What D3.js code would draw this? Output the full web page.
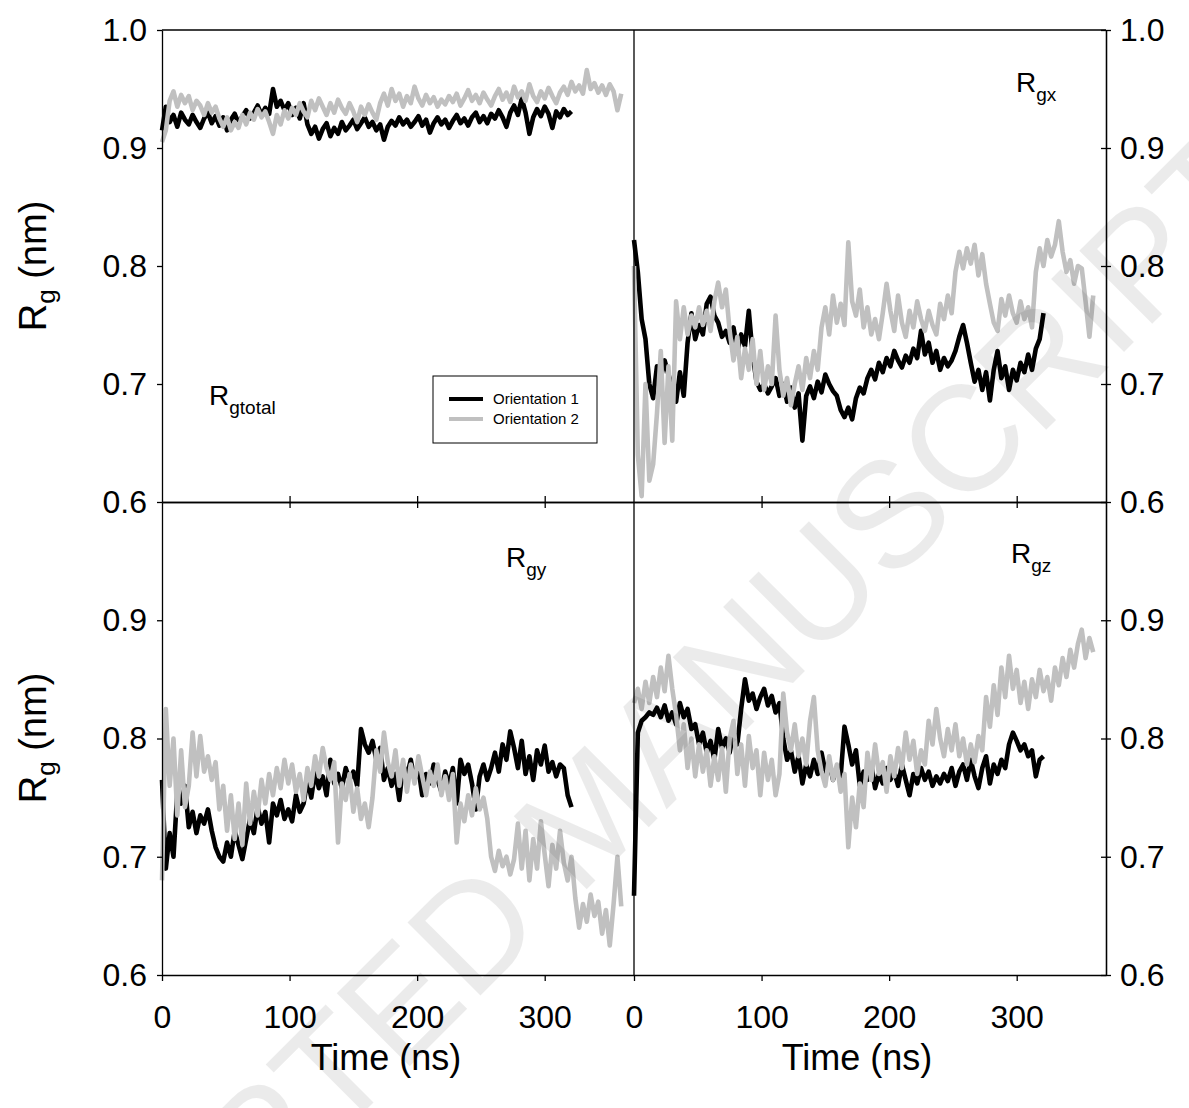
<!DOCTYPE html>
<html><head><meta charset="utf-8">
<script src="https://cdn.jsdelivr.net/npm/d3@7"></script>
<style>body{margin:0;background:#fff} svg{display:block} text{font-family:"Liberation Sans",Arial,sans-serif}</style>
</head><body><svg id="c" width="1189" height="1108"></svg>
<script>
const timeStep = 3; // ns between samples
const xTicks = [0, 100, 200, 300];
const yTicksTop = [0.6, 0.7, 0.8, 0.9, 1.0];
const yTicksBottom = [0.6, 0.7, 0.8, 0.9];
const seriesNames = ["Orientation 1", "Orientation 2"];

const rgTotal1 = [0.915,0.935,0.922,0.928,0.918,0.930,0.924,0.920,0.928,0.922,
0.917,0.925,0.930,0.921,0.927,0.919,0.926,0.915,0.924,0.929,
0.921,0.927,0.932,0.925,0.930,0.936,0.928,0.934,0.929,0.950,
0.935,0.940,0.932,0.938,0.928,0.934,0.925,0.938,0.920,0.912,
0.918,0.908,0.916,0.921,0.910,0.917,0.912,0.922,0.915,0.919,
0.924,0.916,0.921,0.926,0.918,0.922,0.915,0.920,0.907,0.918,
0.923,0.919,0.926,0.920,0.924,0.918,0.922,0.927,0.919,0.924,
0.913,0.921,0.926,0.920,0.924,0.917,0.923,0.928,0.921,0.925,
0.919,0.926,0.930,0.922,0.927,0.921,0.929,0.925,0.932,0.926,
0.918,0.930,0.936,0.928,0.942,0.930,0.912,0.926,0.933,0.927,
0.935,0.929,0.917,0.931,0.926,0.933,0.928,0.931];
const rgTotal2 = [0.905,0.915,0.940,0.948,0.935,0.945,0.938,0.944,0.932,0.940,
0.936,0.928,0.938,0.930,0.935,0.925,0.918,0.926,0.915,0.922,
0.917,0.928,0.920,0.930,0.924,0.933,0.926,0.931,0.922,0.912,
0.928,0.920,0.932,0.925,0.934,0.928,0.938,0.931,0.926,0.940,
0.932,0.942,0.935,0.928,0.938,0.930,0.941,0.934,0.929,0.938,
0.931,0.922,0.935,0.928,0.937,0.930,0.924,0.938,0.946,0.936,
0.950,0.940,0.946,0.935,0.944,0.938,0.952,0.942,0.936,0.945,
0.938,0.943,0.935,0.941,0.937,0.944,0.939,0.946,0.936,0.942,
0.949,0.940,0.945,0.938,0.947,0.941,0.936,0.944,0.950,0.941,
0.947,0.939,0.952,0.943,0.948,0.940,0.954,0.944,0.939,0.948,
0.942,0.951,0.944,0.938,0.947,0.952,0.945,0.956,0.948,0.953,
0.946,0.966,0.950,0.955,0.947,0.953,0.945,0.954,0.948,0.932,
0.946];

const rgx1 = [0.822,0.795,0.755,0.738,0.700,0.688,0.715,0.705,0.720,0.708,
0.698,0.685,0.710,0.690,0.735,0.760,0.738,0.750,0.742,0.768,
0.774,0.758,0.752,0.740,0.745,0.735,0.748,0.728,0.742,0.732,
0.762,0.725,0.702,0.695,0.700,0.692,0.698,0.705,0.690,0.700,
0.685,0.697,0.680,0.692,0.652,0.690,0.698,0.688,0.702,0.693,
0.708,0.700,0.694,0.690,0.678,0.672,0.680,0.670,0.688,0.697,
0.692,0.705,0.712,0.704,0.718,0.710,0.722,0.715,0.728,0.720,
0.714,0.724,0.718,0.730,0.722,0.745,0.725,0.735,0.718,0.728,
0.712,0.722,0.715,0.720,0.728,0.740,0.750,0.735,0.718,0.702,
0.712,0.695,0.710,0.686,0.712,0.728,0.705,0.715,0.695,0.712,
0.703,0.718,0.710,0.725,0.712,0.730,0.738,0.760];
const rgx2 = [0.800,0.640,0.605,0.700,0.618,0.632,0.675,0.728,0.650,0.715,
0.652,0.770,0.738,0.765,0.742,0.758,0.748,0.765,0.750,0.762,
0.745,0.770,0.786,0.765,0.780,0.745,0.720,0.740,0.705,0.730,
0.712,0.738,0.700,0.728,0.695,0.715,0.700,0.758,0.712,0.690,
0.705,0.682,0.700,0.715,0.695,0.722,0.705,0.728,0.712,0.748,
0.765,0.742,0.775,0.752,0.768,0.750,0.820,0.770,0.758,0.780,
0.748,0.765,0.742,0.755,0.738,0.760,0.785,0.762,0.745,0.775,
0.752,0.740,0.762,0.748,0.770,0.755,0.745,0.762,0.750,0.742,
0.768,0.755,0.775,0.760,0.795,0.812,0.798,0.815,0.802,0.818,
0.792,0.810,0.785,0.768,0.752,0.745,0.772,0.758,0.775,0.760,
0.752,0.770,0.755,0.765,0.748,0.795,0.815,0.800,0.822,0.808,
0.818,0.838,0.812,0.795,0.805,0.785,0.800,0.798,0.770,0.740,
0.775];

const rgy1 = [0.765,0.690,0.720,0.700,0.755,0.745,0.760,0.725,0.738,0.720,
0.735,0.728,0.740,0.722,0.708,0.700,0.696,0.712,0.700,0.722,
0.710,0.698,0.715,0.732,0.720,0.742,0.728,0.738,0.712,0.745,
0.735,0.748,0.732,0.740,0.730,0.752,0.738,0.745,0.765,0.750,
0.772,0.758,0.768,0.752,0.782,0.762,0.770,0.758,0.775,0.765,
0.772,0.760,0.808,0.795,0.788,0.798,0.782,0.792,0.765,0.775,
0.760,0.770,0.748,0.778,0.768,0.782,0.765,0.775,0.752,0.770,
0.762,0.778,0.765,0.755,0.772,0.760,0.775,0.745,0.782,0.770,
0.778,0.762,0.740,0.768,0.778,0.765,0.775,0.788,0.772,0.795,
0.782,0.806,0.792,0.775,0.798,0.770,0.785,0.765,0.790,0.778,
0.794,0.772,0.780,0.768,0.778,0.775,0.752,0.742];
const rgy2 = [0.680,0.825,0.760,0.800,0.735,0.790,0.742,0.760,0.805,0.768,
0.802,0.772,0.785,0.765,0.780,0.740,0.760,0.722,0.752,0.715,
0.745,0.710,0.762,0.728,0.755,0.735,0.765,0.745,0.770,0.752,
0.775,0.758,0.782,0.762,0.778,0.755,0.770,0.748,0.775,0.760,
0.785,0.768,0.792,0.775,0.765,0.780,0.712,0.762,0.748,0.770,
0.738,0.758,0.732,0.745,0.725,0.750,0.790,0.772,0.805,0.780,
0.768,0.790,0.760,0.782,0.755,0.778,0.762,0.785,0.768,0.752,
0.772,0.760,0.778,0.752,0.768,0.748,0.770,0.712,0.745,0.730,
0.752,0.735,0.758,0.740,0.750,0.732,0.700,0.688,0.705,0.692,
0.700,0.685,0.698,0.728,0.690,0.722,0.680,0.715,0.690,0.730,
0.702,0.675,0.710,0.690,0.722,0.695,0.680,0.700,0.665,0.640,
0.660,0.645,0.668,0.650,0.662,0.635,0.655,0.625,0.660,0.700,
0.658];

const rgz1 = [0.667,0.805,0.815,0.818,0.822,0.820,0.826,0.818,0.828,0.815,
0.822,0.812,0.830,0.818,0.825,0.808,0.812,0.795,0.805,0.788,
0.798,0.782,0.808,0.792,0.800,0.788,0.805,0.795,0.825,0.850,
0.832,0.838,0.825,0.835,0.842,0.828,0.836,0.822,0.830,0.800,
0.782,0.790,0.772,0.785,0.762,0.778,0.768,0.782,0.770,0.788,
0.772,0.780,0.765,0.775,0.768,0.810,0.795,0.778,0.790,0.760,
0.772,0.765,0.778,0.758,0.770,0.762,0.775,0.765,0.772,0.760,
0.778,0.765,0.752,0.770,0.762,0.775,0.765,0.772,0.760,0.768,
0.762,0.770,0.764,0.775,0.760,0.772,0.778,0.765,0.782,0.768,
0.758,0.775,0.785,0.762,0.778,0.770,0.782,0.775,0.795,0.805,
0.798,0.790,0.795,0.785,0.790,0.768,0.782,0.785];
const rgz2 = [0.830,0.842,0.825,0.848,0.830,0.852,0.835,0.860,0.840,0.870,
0.842,0.820,0.790,0.812,0.775,0.800,0.768,0.795,0.772,0.790,
0.760,0.785,0.765,0.792,0.755,0.800,0.815,0.770,0.795,0.760,
0.802,0.775,0.790,0.752,0.788,0.765,0.782,0.752,0.770,0.838,
0.805,0.790,0.812,0.785,0.800,0.778,0.815,0.835,0.790,0.772,
0.760,0.785,0.765,0.778,0.755,0.770,0.708,0.750,0.725,0.762,
0.742,0.788,0.765,0.795,0.770,0.780,0.755,0.785,0.768,0.792,
0.775,0.805,0.782,0.798,0.770,0.790,0.778,0.815,0.795,0.825,
0.800,0.785,0.808,0.790,0.812,0.785,0.800,0.778,0.795,0.780,
0.802,0.790,0.835,0.810,0.845,0.820,0.860,0.835,0.870,0.842,
0.858,0.830,0.848,0.825,0.850,0.835,0.858,0.840,0.852,0.832,
0.860,0.845,0.868,0.852,0.875,0.860,0.880,0.892,0.868,0.885,
0.873];

const svg = d3.select("#c");
svg.append("rect").attr("width",1189).attr("height",1108).attr("fill","#fff");

const xL = d3.scaleLinear().domain([0,370]).range([162,634]);
const xR = d3.scaleLinear().domain([0,370]).range([634,1106]);
const yT = d3.scaleLinear().domain([0.6,1.0]).range([502,30]);
const yB = d3.scaleLinear().domain([0.6,1.0]).range([975,502]);
const fmt1 = d3.format(".1f");
const FONT = '"Liberation Sans", Arial, sans-serif';
const BLACK = "#000", GRAY = "#c0c0c0";

function addAxis(gen, tx, ty){
  const g = svg.append("g").attr("transform",`translate(${tx},${ty})`).call(gen);
  g.attr("font-size",32).attr("font-family",FONT);
  g.selectAll("text").attr("fill","#000");
  g.selectAll("line").attr("stroke","#000").attr("stroke-width",1.3);
  g.selectAll("path.domain").attr("stroke","#000").attr("stroke-width",1.3);
  return g;
}

function drawSeries(x, y, data, color){
  const line = d3.line().x((d,i)=>x(i*timeStep)).y(d=>y(d));
  svg.append("path").datum(data).attr("d",line)
    .attr("fill","none").attr("stroke",color).attr("stroke-width",4.6)
    .attr("stroke-linejoin","round").attr("stroke-linecap","butt");
}

// data lines
drawSeries(xL,yT,rgTotal1,BLACK); drawSeries(xL,yT,rgTotal2,GRAY);
drawSeries(xR,yT,rgx1,BLACK); drawSeries(xR,yT,rgx2,GRAY);
drawSeries(xL,yB,rgy1,BLACK); drawSeries(xL,yB,rgy2,GRAY);
drawSeries(xR,yB,rgz1,BLACK); drawSeries(xR,yB,rgz2,GRAY);

// frame lines
svg.append("line").attr("x1",162).attr("x2",1106).attr("y1",30).attr("y2",30).attr("stroke","#000").attr("stroke-width",1.3);
svg.append("line").attr("x1",634).attr("x2",634).attr("y1",30).attr("y2",975).attr("stroke","#000").attr("stroke-width",1.3);

// left axes
addAxis(d3.axisLeft(yT).tickValues(yTicksTop).tickSize(5).tickPadding(10).tickSizeOuter(0).tickFormat(fmt1),162,0);
addAxis(d3.axisLeft(yB).tickValues(yTicksBottom).tickSize(5).tickPadding(10).tickSizeOuter(0).tickFormat(fmt1),162,0);
// right axes (crossing ticks)
addAxis(d3.axisRight(yT).tickValues(yTicksTop).tickSize(5).tickPadding(9).tickSizeOuter(0).tickFormat(fmt1),1106,0);
addAxis(d3.axisLeft(yT).tickValues(yTicksTop).tickSize(5).tickSizeOuter(0).tickFormat(""),1106,0);
addAxis(d3.axisRight(yB).tickValues(yTicksBottom).tickSize(5).tickPadding(9).tickSizeOuter(0).tickFormat(fmt1),1106,0);
addAxis(d3.axisLeft(yB).tickValues(yTicksBottom).tickSize(5).tickSizeOuter(0).tickFormat(""),1106,0);
// middle horizontal axis with crossing ticks, bottom axes with labels
const midTicks = xTicks.filter(d=>d>0);
[xL,xR].forEach(x=>{
  addAxis(d3.axisBottom(x).tickValues(midTicks).tickSize(6).tickSizeOuter(0).tickFormat(""),0,502);
  addAxis(d3.axisTop(x).tickValues(midTicks).tickSize(6).tickSizeOuter(0).tickFormat(""),0,502);
  addAxis(d3.axisBottom(x).tickValues(xTicks).tickSize(6).tickPadding(24).tickSizeOuter(0).tickFormat(d3.format("d")),0,975);
});

// axis titles
[386,857].forEach(cx=>{
  svg.append("text").attr("x",cx).attr("y",1070).attr("text-anchor","middle")
    .attr("font-size",36).attr("font-family",FONT).text("Time (ns)");
});
[266,738].forEach(cy=>{
  const t = svg.append("text").attr("transform",`translate(46,${cy}) rotate(-90)`)
    .attr("text-anchor","middle").attr("font-size",38).attr("font-family",FONT);
  t.append("tspan").text("R");
  t.append("tspan").attr("font-size",26).attr("dy",9).text("g");
  t.append("tspan").attr("dy",-9).text(" (nm)");
});

// panel labels
function panelLabel(x,y,main,sub){
  const t = svg.append("text").attr("x",x).attr("y",y).attr("font-size",28).attr("font-family",FONT);
  t.append("tspan").text(main);
  t.append("tspan").attr("font-size",19).attr("dy",9).text(sub);
}
panelLabel(209,405,"R","gtotal");
panelLabel(1016,92,"R","gx");
panelLabel(506,567,"R","gy");
panelLabel(1011,563,"R","gz");

// legend
const lg = svg.append("g");
lg.append("rect").attr("x",433).attr("y",376).attr("width",164).attr("height",67)
  .attr("fill","#fff").attr("stroke","#000").attr("stroke-width",1);
[BLACK,GRAY].forEach((c,i)=>{
  const yy = 399 + i*20;
  lg.append("line").attr("x1",449).attr("x2",483).attr("y1",yy).attr("y2",yy)
    .attr("stroke",c).attr("stroke-width",4);
  lg.append("text").attr("x",493).attr("y",yy+5).attr("font-size",15).attr("font-family",FONT)
    .text(seriesNames[i]);
});

// watermark (as in the reference, it runs off the page edge)
svg.append("text").attr("transform","translate(625,851) rotate(-45)")
  .attr("text-anchor","middle").attr("font-size",150)
  .attr("font-family",'"Liberation Serif", "DejaVu Serif", serif')
  .attr("fill","#000").attr("fill-opacity",0.08).text("ACCEPTED MANUSCRIPT");
</script></body></html>
